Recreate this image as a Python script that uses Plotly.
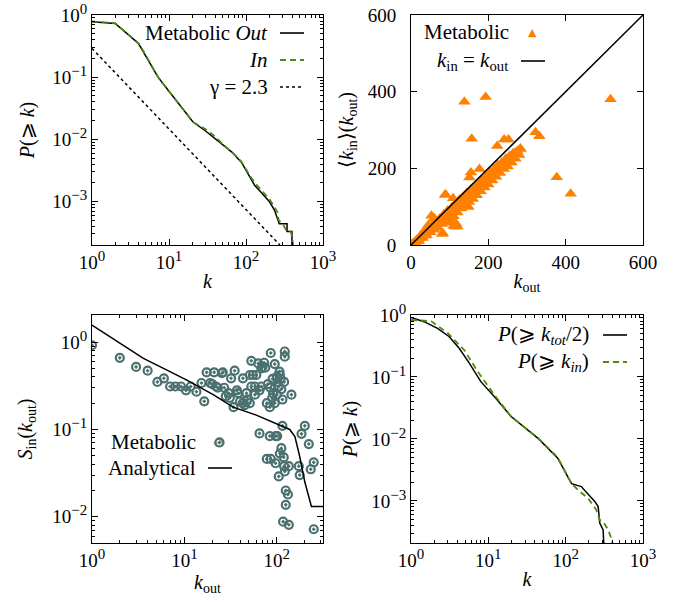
import plotly.graph_objects as go

# ---------------- data ----------------
# Panel (a): cumulative degree distributions
k_out_a = [1, 2, 4, 4.6, 7.2, 9.7, 13.8, 20.5, 29, 48, 65, 87, 117, 130, 158, 203, 235, 261, 270, 341, 341, 395, 395]
P_out_a = [0.78, 0.73, 0.35, 0.26, 0.10, 0.062, 0.035, 0.019, 0.014, 0.0085, 0.0063, 0.0043, 0.0023, 0.0018, 0.0014,
           9.8e-4, 7.2e-4, 4.9e-4, 4.4e-4, 4.4e-4, 3.3e-4, 3.3e-4, 1.9e-4]
k_in_a = [1, 2, 4, 4.6, 7.2, 9.7, 13.8, 20.5, 30, 40, 50, 65, 87, 117, 135, 160, 200, 230, 260, 265, 290, 300, 330,
          345, 380, 400, 410]
P_in_a = [0.79, 0.74, 0.35, 0.27, 0.10, 0.063, 0.035, 0.019, 0.0145, 0.011, 0.0083, 0.0063, 0.0044, 0.0024, 0.0019,
          0.0015, 0.0011, 8.5e-4, 6.5e-4, 5.0e-4, 4.5e-4, 4.4e-4, 3.5e-4, 3.3e-4, 3.3e-4, 2.6e-4, 1.9e-4]
k_gamma = [1, 275]
P_gamma = [0.29, 2.0e-4]

# Panel (b): <k_in>(k_out)
kout_b = [2, 3, 5, 6, 8, 10, 12, 14, 15, 17, 20, 22, 24, 26, 28, 30, 32, 34, 36, 38, 40, 42, 44, 46, 48, 50, 52, 55,
          58, 60, 62, 65, 68, 70, 72, 75, 78, 80, 82, 85, 88, 90, 92, 95, 98, 100, 103, 106, 110, 112, 115, 118, 120,
          124, 128, 130, 134, 138, 140, 144, 148, 150, 155, 158, 162, 166, 170, 175, 178, 182, 186, 190, 195, 200,
          205, 210, 215, 220, 225, 230, 235, 240, 245, 250, 255, 260, 265, 270, 262, 252,
          138, 193, 516, 157, 223, 241, 252, 283, 322, 332, 377, 413, 177, 155, 151, 90, 148, 114, 82, 53, 88, 116,
          81, 147, 109, 127, 120, 45, 60, 35,
          20, 30, 40, 50, 60, 70, 80, 90, 100, 110, 120, 130, 140, 150, 160, 170, 180, 190, 200, 210, 220, 230, 240,
          250, 260, 270, 280,
          25, 35, 45, 55, 65, 75, 85, 95, 105, 115, 125, 135, 145, 155, 165, 175, 185, 195, 205, 215, 225, 235, 245,
          255, 265, 275, 283, 105, 110, 95]
kin_b = [2, 1, 4, 3, 6, 8, 9, 12, 10, 15, 16, 18, 20, 22, 21, 25, 27, 26, 30, 31, 34, 33, 37, 38, 40, 42, 44, 45,
         48, 50, 52, 55, 57, 60, 58, 63, 65, 66, 70, 72, 73, 76, 78, 80, 82, 84, 86, 90, 92, 95, 98, 100, 102,
         105, 108, 112, 115, 118, 120, 124, 128, 130, 134, 138, 140, 145, 148, 150, 155, 160, 162, 165, 170, 174,
         180, 184, 188, 195, 200, 205, 210, 212, 218, 222, 228, 232, 236, 240, 226, 215,
         374, 386, 380, 277, 258, 275, 275, 251, 294, 284, 177, 134, 198, 189, 176, 131, 100, 48, 31, 76, 131, 57,
         29, 100, 122, 100, 48, 52, 70, 38,
         10, 18, 25, 33, 40, 45, 55, 60, 68, 75, 85, 95, 105, 112, 120, 130, 140, 150, 158, 168, 178, 188, 198,
         205, 215, 225, 235,
         25, 34, 44, 52, 62, 70, 80, 90, 98, 108, 118, 126, 136, 145, 152, 162, 172, 180, 190, 198, 208, 215, 225,
         232, 240, 245, 251, 60, 50, 58]
diag_x = [0, 600]
diag_y = [0, 600]

# Panel (c): S_in(k_out)
kout_c = [1, 2, 3, 4, 5.1, 6, 7, 8, 9.2, 10.4, 11.7, 13.5, 15.3, 16.4, 17.4,
          86, 122, 122, 53, 63, 73, 70, 75, 68, 95, 26, 25.5, 21, 35, 43, 51, 55, 60, 107, 108, 32, 19, 22, 53, 58,
          68, 37, 38, 47, 58, 91, 89, 102, 120, 105, 144, 31, 34, 40, 43, 51, 78, 84, 95,
          20, 23, 27, 28, 30, 45, 48, 65, 80, 100, 110, 85, 90, 112, 115, 100,
          24, 65, 84, 101, 97.5, 115, 201, 185, 222, 112, 108, 119, 78, 86, 97, 120, 135, 122, 105, 173, 177, 233,
          251, 125, 132, 125, 117, 135, 251]
S_c = [0.92, 0.66, 0.52, 0.47, 0.35, 0.385, 0.31, 0.31, 0.31, 0.28, 0.31, 0.27, 0.34, 0.21, 0.45,
       0.75, 0.78, 0.68, 0.61, 0.57, 0.58, 0.52, 0.51, 0.50, 0.56, 0.45, 0.44, 0.45, 0.47, 0.385, 0.42, 0.42, 0.42,
       0.46, 0.42, 0.385, 0.34, 0.31, 0.31, 0.31, 0.31, 0.28, 0.26, 0.26, 0.25, 0.26, 0.23, 0.35, 0.35, 0.31, 0.25,
       0.23, 0.18, 0.21, 0.20, 0.20, 0.20, 0.18, 0.20,
       0.33, 0.30, 0.30, 0.24, 0.26, 0.19, 0.22, 0.28, 0.33, 0.40, 0.38, 0.30, 0.38, 0.29, 0.22, 0.25,
       0.071, 0.090, 0.084, 0.084, 0.084, 0.11, 0.11, 0.089, 0.068, 0.061, 0.053, 0.048, 0.046, 0.046, 0.041,
       0.038, 0.038, 0.033, 0.029, 0.038, 0.030, 0.035, 0.042, 0.020, 0.018, 0.0137, 0.0088, 0.0081, 0.0072]
k_anal = [1, 2, 3.6, 6.4, 10.5, 20.5, 33.7, 60, 107, 138, 157, 177, 201, 237, 316]
S_anal = [1.56, 0.97, 0.65, 0.48, 0.37, 0.25, 0.18, 0.146, 0.112, 0.10, 0.083, 0.049, 0.025, 0.0131, 0.0131]

# Panel (d): P(>= k_tot/2) and P(>= k_in)
k_tot_d = [1, 1.48, 2.2, 3.1, 4.2, 5.7, 8.0, 12, 19.7, 44, 79, 119, 159, 238, 263, 276, 305, 312]
P_tot_d = [0.91, 0.78, 0.61, 0.45, 0.29, 0.166, 0.084, 0.048, 0.023, 0.0102, 0.0049, 0.0019, 0.0017, 9.8e-4,
           8.1e-4, 4.4e-4, 3.4e-4, 1.9e-4]
k_in_d = [1, 1.8, 3.0, 4.9, 7.3, 12, 19.7, 44, 79, 119, 144, 195, 250, 276, 305, 355, 393, 410]
P_in_d = [0.83, 0.80, 0.51, 0.27, 0.122, 0.051, 0.023, 0.0103, 0.0050, 0.0019, 0.0015, 0.0011, 7.1e-4, 4.9e-4,
          4.6e-4, 3.4e-4, 2.4e-4, 1.9e-4]

# ---------------- style ----------------
W, H = 693, 602
FONT = "Liberation Serif"
FS = 19
FS_LEG = 21
BLACK = "#000000"
GREEN = "#4f8a10"
ORANGE = "#ff8000"
TEAL = "#4a7170"


def px_x(p):
    return p / W


def px_y(p):
    return 1 - p / H


def pow_labels(exps):
    out = []
    for e in exps:
        s = str(e).replace("-", "\u2212")
        out.append("10<sup><span style='font-size:15px'>%s</span></sup>" % s)
    return out


def minor_vals(e0, e1):
    return [m * 10 ** e for e in range(e0, e1) for m in range(2, 10)]


common = dict(showline=True, linecolor=BLACK, linewidth=1, mirror="ticks", ticks="inside", ticklen=6,
              tickwidth=1, tickcolor=BLACK, showgrid=False, zeroline=False, automargin=False,
              tickfont=dict(family=FONT, size=FS, color=BLACK),
              title_font=dict(family=FONT, size=FS + 1, color=BLACK))

fig = go.Figure()

# panel a
fig.add_trace(go.Scatter(x=k_out_a, y=P_out_a, mode="lines", line=dict(color=BLACK, width=1.5),
                         xaxis="x", yaxis="y", showlegend=False))
fig.add_trace(go.Scatter(x=k_in_a, y=P_in_a, mode="lines", line=dict(color=GREEN, width=1.8, dash="6px,4px"),
                         xaxis="x", yaxis="y", showlegend=False))
fig.add_trace(go.Scatter(x=k_gamma, y=P_gamma, mode="lines", line=dict(color=BLACK, width=1.5, dash="dot"),
                         xaxis="x", yaxis="y", showlegend=False))

# panel b
fig.add_trace(go.Scatter(x=kout_b, y=kin_b, mode="markers",
                         marker=dict(symbol="triangle-up", size=11, color=ORANGE,
                                     line=dict(color=ORANGE, width=0)),
                         xaxis="x2", yaxis="y2", showlegend=False))
fig.add_trace(go.Scatter(x=diag_x, y=diag_y, mode="lines", line=dict(color=BLACK, width=1.5),
                         xaxis="x2", yaxis="y2", showlegend=False))

# panel c
fig.add_trace(go.Scatter(x=kout_c, y=S_c, mode="markers",
                         marker=dict(symbol="circle-open-dot", size=8, color=TEAL,
                                     line=dict(color=TEAL, width=2.2)),
                         xaxis="x3", yaxis="y3", showlegend=False))
fig.add_trace(go.Scatter(x=k_anal, y=S_anal, mode="lines", line=dict(color=BLACK, width=1.5),
                         xaxis="x3", yaxis="y3", showlegend=False))

# panel d
fig.add_trace(go.Scatter(x=k_tot_d, y=P_tot_d, mode="lines", line=dict(color=BLACK, width=1.5),
                         xaxis="x4", yaxis="y4", showlegend=False))
fig.add_trace(go.Scatter(x=k_in_d, y=P_in_d, mode="lines", line=dict(color=GREEN, width=1.8, dash="6px,4px"),
                         xaxis="x4", yaxis="y4", showlegend=False))

dom_left = [px_x(92), px_x(323)]
dom_right = [px_x(411), px_x(643)]
dom_top = [px_y(245), px_y(15)]
dom_bot = [px_y(543), px_y(315)]

minor_common = dict(ticks="inside", ticklen=3, tickcolor=BLACK, tickwidth=1, showgrid=False)

fig.update_layout(
    template="none",
    width=W, height=H, margin=dict(l=0, r=0, t=0, b=0),
    paper_bgcolor="white", plot_bgcolor="white",
    font=dict(family=FONT, size=FS, color=BLACK),
    xaxis=dict(common, domain=dom_left, anchor="y", type="log", range=[0, 3],
               tickvals=[1, 10, 100, 1000], ticktext=pow_labels([0, 1, 2, 3]),
               minor=dict(minor_common, tickvals=minor_vals(0, 3)),
               title=dict(text="<i>k</i>", standoff=2)),
    yaxis=dict(common, domain=dom_top, anchor="x", type="log", range=[-3.7, 0],
               tickvals=[1, 0.1, 0.01, 0.001], ticktext=pow_labels([0, -1, -2, -3]),
               minor=dict(minor_common, tickvals=minor_vals(-4, 0)),
               title=dict(text="<i>P</i>(\u2a7e <i>k</i>)", standoff=12)),
    xaxis2=dict(common, domain=dom_right, anchor="y2", range=[0, 600],
                tickvals=[0, 200, 400, 600],
                title=dict(text="<i>k</i><sub>out</sub>", standoff=2)),
    yaxis2=dict(common, domain=dom_top, anchor="x2", range=[0, 600],
                tickvals=[0, 200, 400, 600], ticklabelstandoff=10,
                title=dict(text="\u27e8<i>k</i><sub>in</sub>\u27e9(<i>k</i><sub>out</sub>)", standoff=8)),
    xaxis3=dict(common, domain=dom_left, anchor="y3", type="log", range=[0, 2.5],
                tickvals=[1, 10, 100], ticktext=pow_labels([0, 1, 2]),
                minor=dict(minor_common, tickvals=minor_vals(0, 3)),
                title=dict(text="<i>k</i><sub>out</sub>", standoff=2)),
    yaxis3=dict(common, domain=dom_bot, anchor="x3", type="log", range=[-2.3, 0.31],
                tickvals=[1, 0.1, 0.01], ticktext=pow_labels([0, -1, -2]),
                minor=dict(minor_common, tickvals=minor_vals(-3, 1)),
                title=dict(text="<i>S</i><sub>in</sub>(<i>k</i><sub>out</sub>)", standoff=14)),
    xaxis4=dict(common, domain=dom_right, anchor="y4", type="log", range=[0, 3],
                tickvals=[1, 10, 100, 1000], ticktext=pow_labels([0, 1, 2, 3]),
                minor=dict(minor_common, tickvals=minor_vals(0, 3)),
                title=dict(text="<i>k</i>", standoff=2)),
    yaxis4=dict(common, domain=dom_bot, anchor="x4", type="log", range=[-3.68, 0],
                tickvals=[1, 0.1, 0.01, 0.001], ticktext=pow_labels([0, -1, -2, -3]),
                minor=dict(minor_common, tickvals=minor_vals(-4, 0)),
                title=dict(text="<i>P</i>(\u2a7e <i>k</i>)", standoff=8)),
)

# ---------------- legends (text + samples) ----------------
def label(text, xr, yc):
    fig.add_annotation(text=text, xref="paper", yref="paper", x=px_x(xr), y=px_y(yc),
                       xanchor="right", yanchor="middle", showarrow=False,
                       font=dict(family=FONT, size=FS_LEG, color=BLACK))


def sample_line(x0, x1, yc, color, dash="solid", width=1.6):
    fig.add_shape(type="line", xref="paper", yref="paper", x0=px_x(x0), x1=px_x(x1),
                  y0=px_y(yc), y1=px_y(yc), line=dict(color=color, width=width, dash=dash))


def sample_glyph(glyph, xc, yc, color, size):
    fig.add_annotation(text=glyph, xref="paper", yref="paper", x=px_x(xc), y=px_y(yc),
                       xanchor="center", yanchor="middle", showarrow=False,
                       font=dict(family="DejaVu Sans", size=size, color=color))


label("Metabolic <i>Out</i>", 270, 33)
sample_line(280, 304, 33, BLACK)
label("<i>In</i>", 270, 60)
sample_line(280, 304, 60, GREEN, dash="6px,4px", width=1.8)
label("\u03b3 = 2.3", 270, 87)
sample_line(280, 304, 87, BLACK, dash="dot", width=1.6)

label("Metabolic", 511, 32)
sample_glyph("\u25b2", 532, 32, ORANGE, 11)
label("<i>k</i><sub>in</sub> = <i>k</i><sub>out</sub>", 510, 61)
sample_line(521, 545, 61, BLACK)

label("Metabolic", 198, 442)
sample_glyph("\u2299", 218, 442, TEAL, 13)
label("Analytical", 198, 468)
sample_line(208, 232, 468, BLACK)

label("<i>P</i>(\u2a7e <i>k<sub>tot</sub></i>/2)", 591, 335)
sample_line(603, 627, 335, BLACK)
label("<i>P</i>(\u2a7e <i>k<sub>in</sub></i>)", 591, 362)
sample_line(603, 627, 362, GREEN, dash="6px,4px", width=1.8)

fig.write_html("out.html", config={"displayModeBar": False},
               post_script="document.body.style.margin='0';document.body.style.padding='0';")
